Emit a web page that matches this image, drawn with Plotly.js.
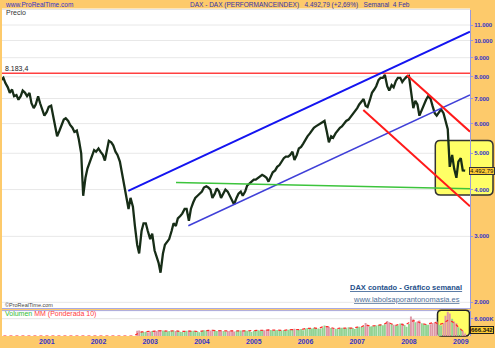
<!DOCTYPE html>
<html><head><meta charset="utf-8">
<script src="https://cdn.plot.ly/plotly-3.0.1.min.js"></script>
<style>html,body{margin:0;padding:0;background:#fdca6b;} #chart{width:495px;height:348px;}</style>
</head><body><div id="chart"></div>
<script>
// ---------- DATA ----------
const p2000 = [7850,7950,7700,7500,7250,7400,7100,7150,6950,7100,7350,7250,7100,7250,6800,6600,6750,7100,6800,6550,6300];
const p2001 = [6450,6650,6700,6300,6000,5550,5750,5950,6150,6200,6100,5950,5850,5700,5750,5450,5000,3850,4300,4550,4750,4950,5100,5050];
const p2002 = [5150,5050,4950,4780,5100,5400,5350,5250,5050,4950,4750,4450,4200,3900,3550,3800,3600,3200,2850,2700,3100,3250,3250,3100];
const p2003 = [2950,3050,2750,2650,2550,2400,2700,2850,2900,2950,3100,3250,3200,3350,3400,3450,3550,3550,3300,3550,3700,3800,3850,3900];
const p2004 = [3950,4050,4080,4050,4000,3800,3900,4030,3950,3800,3900,4000,3950,3850,3750,3650,3800,3900,3950,3850,3950,4100,4150,4200];
const p2005 = [4250,4250,4300,4350,4380,4350,4300,4200,4350,4450,4500,4600,4650,4750,4850,4900,4900,4950,5050,4800,4950,5150,5200,5300];
const p2006 = [5450,5550,5650,5750,5850,5900,5950,6000,6050,6100,5700,5350,5550,5500,5650,5750,5850,5900,6000,6100,6150,6250,6350,6500];
const p2007 = [6600,6750,6900,6980,6700,6650,6950,7250,7400,7550,7850,7950,7950,8100,7550,7350,7600,7500,7800,7950,7950,7750,7900,8000];
const p2008 = [8050,7300,6600,6900,6750,6300,6550,6750,6950,7100,7000,6700,6400,6300,6450,6550,6400,6100,5800,4600,4950,4550,4300,4750];
const p2009 = [4850,4500,4492.79];

const v2002 = [1800,1900,1500,1400,1500,1200];
const v2003 = [1600,1700,1800,1700,2100,2000,1900,1700,1600,1700,1800,1900,1700,1800,1500,1400,1700,1800,1900,1700,1800,1700,1600,1300];
const v2004 = [1700,2000,1900,1800,1900,2200,1900,1700,1900,2000,1700,1600,1700,1800,1900,1600,1700,1800,1900,1800,1900,1800,1700,1400];
const v2005 = [1800,1900,2000,1900,2100,2000,2200,2400,2100,1900,2000,2100,2000,1900,2100,1800,2200,2300,2200,2500,2300,2200,2400,2000];
const v2006 = [2600,2800,2700,2600,2900,2800,2600,2500,2900,3600,3400,3200,2800,2700,2500,2400,2700,2900,2800,2700,3000,2900,2800,2400];
const v2007 = [3000,3200,3100,3300,4500,3800,3300,3400,3500,3600,3800,4000,3700,4100,5200,4800,4200,3900,3600,3700,4300,4400,3800,3200];
const v2008 = [4200,6800,5800,4800,5000,5400,4400,4100,4000,3900,4100,4500,4800,5000,3900,3600,4500,7000,8400,7800,6000,5000,4400,3000];
const v2009 = [2500,1800,900];

const ma2000 = [0,0,0,0,0,0,0,0,0,0];
const ma2001 = [0,0,0,0,0,0,0,0,0,0,0,0];
const ma2002 = [0,0,0,0,0,0,0,0,0,700,1400,1500];
const ma2003 = [1600,1750,1900,1850,1700,1800,1800,1550,1700,1800,1750,1550];
const ma2004 = [1800,1850,1950,1850,1850,1700,1750,1750,1750,1850,1850,1650];
const ma2005 = [1850,1950,2050,2200,2050,2050,1950,1950,2200,2300,2250,2200];
const ma2006 = [2600,2650,2800,2600,3150,3300,2800,2500,2750,2800,2900,2700];
const ma2007 = [3050,3200,3900,3450,3550,3850,3950,4700,4100,3700,4200,3700];
const ma2008 = [4600,5300,5000,4300,4000,4300,4800,3900,4500,5400,5000,3800];
const ma2009 = [2300,1200];

// trend lines (anchor points)
const resistDates = ['2000-02-01','2009-04-01'];      const resistValues = [8183.4, 8183.4];
const upBlueDates = ['2002-07-30','2009-03-07'];      const upBlueValues = [3970, 10560];
const loBlueDates = ['2003-09-27','2009-03-07'];      const loBlueValues = [3203, 7155];
const greenDates  = ['2003-07-02','2009-03-07'];      const greenValues  = [4178, 4019];
const upRedDates  = ['2007-12-17','2009-03-07'];      const upRedValues  = [8090, 5710];
const loRedDates  = ['2007-02-13','2009-03-07'];      const loRedValues  = [6522, 3609];

const priceTicks = [2000,3000,4000,5000,6000,7000,8000,9000,10000,11000];
const priceTickText = ['2.000','3.000','4.000','5.000','6.000','7.000','8.000','9.000','10.000','11.000'];
const yearTicks = ['2001-01-01','2002-01-01','2003-01-01','2004-01-01','2005-01-01','2006-01-01','2007-01-01','2008-01-01','2009-01-01'];
const yearText = ['2001','2002','2003','2004','2005','2006','2007','2008','2009'];
const volTicks = [6000]; const volTickText = ['6.000K'];

// ---------- build ----------
function halfMonthDates(start, end, days){
  const out = [];
  for (let y = 2000; y <= 2009; y++) for (let m = 1; m <= 12; m++) for (const d of days) {
    const s = y + '-' + String(m).padStart(2,'0') + '-' + String(d).padStart(2,'0');
    if (s >= start && s <= end) out.push(s);
  }
  return out;
}
const priceDates = halfMonthDates('2000-02-15','2009-02-01',[1,15]);
const price = [].concat(p2000,p2001,p2002,p2003,p2004,p2005,p2006,p2007,p2008,p2009);
const volDates = halfMonthDates('2002-10-01','2009-02-01',[1,15]);
const vol = [].concat(v2002,v2003,v2004,v2005,v2006,v2007,v2008,v2009);
const maDates = halfMonthDates('2000-03-01','2009-02-01',[1]);
const ma = [].concat(ma2000,ma2001,ma2002,ma2003,ma2004,ma2005,ma2006,ma2007,ma2008,ma2009);

const GREEN = '#93d393', PINK = '#de98a6';
const volColors = volDates.map(d => { const i = priceDates.indexOf(d); return price[i] >= price[i-1] ? GREEN : PINK; });

// geometry
const W = 495, H = 348, ML = 2, MR = 25, MT = 10, MB = 12;
const PW = W - ML - MR, PH = H - MT - MB;
const px = x => (x - ML) / PW;
const py = y => (H - MB - y) / PH;
const priceDom = [py(308.5), 1];
const volDom = [0, py(310.7)];
const yR = [3.28447, 4.08154];
const volR = [0, 8775];
const priceY = v => priceDom[0] + (Math.log10(v) - yR[0]) / (yR[1] - yR[0]) * (priceDom[1] - priceDom[0]);
const volY = v => volDom[0] + (v - volR[0]) / (volR[1] - volR[0]) * (volDom[1] - volDom[0]);

function rrect(x0, y0, x1, y1, r){
  const P = (x, y) => px(x).toFixed(5) + ',' + py(y).toFixed(5);
  return 'M' + P(x0+r,y0) + ' L' + P(x1-r,y0) + ' Q' + P(x1,y0) + ' ' + P(x1,y0+r) +
         ' L' + P(x1,y1-r) + ' Q' + P(x1,y1) + ' ' + P(x1-r,y1) +
         ' L' + P(x0+r,y1) + ' Q' + P(x0,y1) + ' ' + P(x0,y1-r) +
         ' L' + P(x0,y0+r) + ' Q' + P(x0,y0) + ' ' + P(x0+r,y0) + ' Z';
}

const shapes = [];
const paperRect = (x0,y0,x1,y1,fill) => shapes.push({type:'rect',xref:'paper',yref:'paper',layer:'below',x0:px(x0),x1:px(x1),y0:py(y1),y1:py(y0),fillcolor:fill,line:{width:0}});
const paperHLine = (yp, col, w) => shapes.push({type:'line',xref:'paper',yref:'paper',layer:'below',x0:0,x1:1,y0:yp,y1:yp,line:{color:col,width:w}});
paperRect(2, 8.5, 470, 308.5, '#ffffff');
paperRect(2, 310.5, 470, 336, '#ffffff');
paperHLine(py(9.5), '#e4e4e4', 1);
priceTicks.forEach(v => paperHLine(priceY(v), '#e8e8e8', 1));
paperHLine(volY(6000), '#e4e4e4', 1);
paperHLine(py(308.5), '#a9a9e0', 1);
paperHLine(py(310.6), '#a9a9e0', 1);
shapes.push({type:'path',xref:'paper',yref:'paper',layer:'below',path:rrect(435.3,140.5,493,195,5),fillcolor:'#ffff66',line:{color:'#333333',width:1.5}});
shapes.push({type:'path',xref:'paper',yref:'paper',layer:'below',path:rrect(437.5,310.3,469.5,336,4),fillcolor:'#ffff66',line:{color:'#222222',width:1.5}});

const FONT = 'Liberation Sans, Arial, sans-serif';
const ann = (x, y, text, o) => Object.assign({xref:'paper',yref:'paper',x:px(x),y:py(y),text:text,showarrow:false,xanchor:'left',yanchor:'middle',font:{family:FONT,size:7,color:'#333'}}, o||{});
const NB = '\u00a0';
const annotations = [
  ann(3, 4.6, 'www.ProRealTime.com', {font:{family:FONT,size:6.5,color:'#3333cc'}}),
  ann(188, 4.6, 'DAX - DAX (PERFORMANCEINDEX)' + NB+NB+NB + '4.492,79 (+2,69%)' + NB+NB+NB + 'Semanal' + NB+NB + '4 Feb', {font:{family:FONT,size:6.5,color:'#3333aa'}}),
  ann(4, 12.6, 'Precio', {font:{family:FONT,size:7,color:'#333'}}),
  ann(3, 68.6, '8.183,4', {font:{family:FONT,size:7,color:'#222'}}),
  ann(3, 305.3, '©ProRealTime.com', {font:{family:FONT,size:5.5,color:'#444'}}),
  ann(3, 313.8, 'Volumen <span style="color:#ff3b3b">MM (Ponderada 10)</span>', {font:{family:FONT,size:7,color:'#33bb33'}}),
  ann(464, 287, 'DAX contado - Gráfico semanal', {xanchor:'right',font:{family:FONT,size:7.5,weight:'bold',color:'#24508a',lineposition:'under'}}),
  ann(462, 299.3, 'www.labolsaporantonomasia.es', {xanchor:'right',font:{family:FONT,size:7.5,color:'#4d6f99',lineposition:'under'}}),
  ann(481.7, 171.2, '4.492,79', {xanchor:'center',bgcolor:'#ffcc33',bordercolor:'#333333',borderwidth:1,borderpad:0,font:{family:FONT,size:6,color:'#111'}}),
  ann(481.7, 329.8, '666.342', {xanchor:'center',bgcolor:'#ffcc33',bordercolor:'#222222',borderwidth:1,borderpad:0,font:{family:FONT,size:6,weight:'bold',color:'#111'}})
];

const lineTrace = (x, y, color, width) => ({type:'scatter',mode:'lines',x:x,y:y,xaxis:'x',yaxis:'y',line:{color:color,width:width},hoverinfo:'skip'});
const traces = [
  {type:'bar',x:volDates,y:vol,xaxis:'x',yaxis:'y2',marker:{color:volColors,line:{width:0}},hoverinfo:'skip'},
  {type:'scatter',mode:'lines',x:maDates,y:ma,xaxis:'x',yaxis:'y2',line:{color:'#ff2a2a',width:1.2,dash:'dot'},hoverinfo:'skip'},
  {type:'scatter',mode:'lines',x:priceDates,y:price,xaxis:'x',yaxis:'y',line:{color:'#172d17',width:2.3},hoverinfo:'skip'},
  lineTrace(resistDates, resistValues, '#ff4040', 1.5),
  lineTrace(upBlueDates, upBlueValues, '#1414f0', 2),
  lineTrace(loBlueDates, loBlueValues, '#4040d8', 1.5),
  lineTrace(greenDates, greenValues, '#3cc43c', 1.5),
  lineTrace(upRedDates, upRedValues, '#ff1a1a', 2),
  lineTrace(loRedDates, loRedValues, '#ff1a1a', 2)
];

const axFont = {family:FONT,size:6,weight:'bold',color:'#3333cc'};
const layout = {
  width:W, height:H, margin:{l:ML,r:MR,t:MT,b:MB,pad:0},
  paper_bgcolor:'#fdca6b', plot_bgcolor:'rgba(0,0,0,0)',
  showlegend:false, hovermode:false, bargap:0.02,
  xaxis:{type:'date',anchor:'y2',range:['2000-02-20','2009-03-07'],tickvals:yearTicks,ticktext:yearText,
         showgrid:false,zeroline:false,showline:false,ticks:'',tickfont:{family:FONT,size:7,weight:'bold',color:'#3333cc'}},
  yaxis:{type:'log',anchor:'x',side:'right',domain:priceDom,range:yR,tickvals:priceTicks,ticktext:priceTickText,
         showgrid:false,zeroline:false,showline:true,linecolor:'#9999dd',linewidth:1,ticks:'outside',ticklen:2,tickcolor:'#9999dd',tickfont:axFont},
  yaxis2:{anchor:'x',side:'right',domain:volDom,range:volR,tickvals:volTicks,ticktext:volTickText,
         showgrid:false,zeroline:false,showline:true,linecolor:'#9999dd',linewidth:1,ticks:'outside',ticklen:2,tickcolor:'#9999dd',tickfont:axFont},
  shapes:shapes, annotations:annotations
};
Plotly.newPlot('chart', traces, layout, {staticPlot:true, displayModeBar:false});
</script></body></html>
